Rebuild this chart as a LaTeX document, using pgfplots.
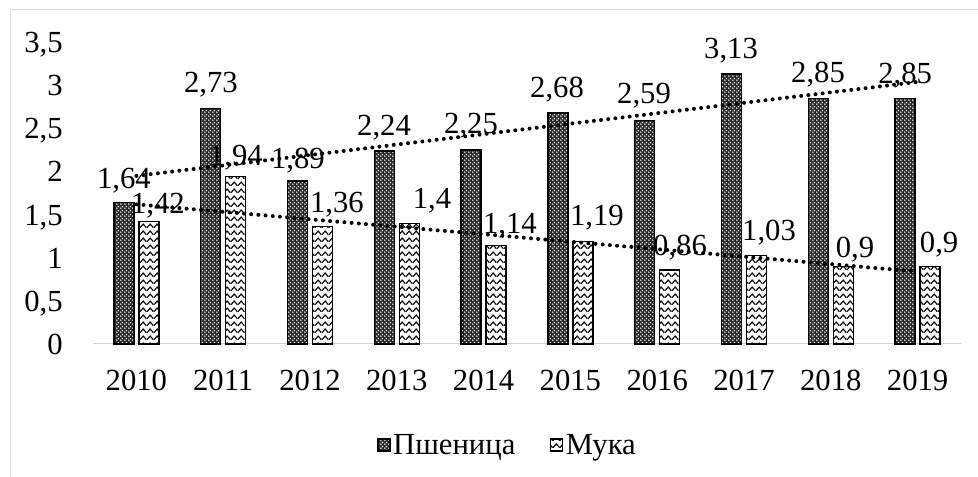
\documentclass[border=0pt]{standalone}
\usepackage{pgfplots}
\pgfplotsset{compat=1.18}
\usepackage{pgfplotstable}
\usepackage{fontspec}
\setmainfont{Liberation Serif}
\usetikzlibrary{patterns}

\pgfdeclarepatternformonly{zigzag}{\pgfqpoint{0pt}{0pt}}{\pgfqpoint{5pt}{5.4pt}}{\pgfqpoint{5pt}{5.4pt}}{
  \pgfsetlinewidth{0.9pt}
  \pgfpathmoveto{\pgfqpoint{0pt}{1.1pt}}
  \pgfpathlineto{\pgfqpoint{2.5pt}{4.1pt}}
  \pgfpathlineto{\pgfqpoint{5pt}{1.1pt}}
  \pgfusepath{stroke}}
\pgfdeclarepatternformonly{wdots}{\pgfqpoint{0pt}{0pt}}{\pgfqpoint{3pt}{3pt}}{\pgfqpoint{3pt}{3pt}}{
  \pgfpathcircle{\pgfqpoint{0.75pt}{0.75pt}}{0.72pt}
  \pgfpathcircle{\pgfqpoint{2.25pt}{2.25pt}}{0.72pt}
  \pgfusepath{fill}}

\pgfplotstableread{
x y
0 1.64
1 2.73
2 1.89
3 2.24
4 2.25
5 2.68
6 2.59
7 3.13
8 2.85
9 2.85
}\wheat
\pgfplotstableread{
x y
0 1.42
1 1.94
2 1.36
3 1.40
4 1.14
5 1.19
6 0.86
7 1.03
8 0.90
9 0.90
}\flour
\pgfplotstableread{
x y lab
-0.144 1.926 1,64
0.858 3.039 2,73
1.861 2.158 1,89
2.853 2.541 2,24
3.855 2.564 2,25
4.846 2.981 2,68
5.848 2.912 2,59
6.851 3.434 3,13
7.853 3.155 2,85
8.856 3.144 2,85
}\wlab
\pgfplotstableread{
x y lab
0.248 1.636 1,42
1.147 2.193 1,94
2.311 1.647 1,36
3.405 1.694 1,4
4.304 1.404 1,14
5.306 1.497 1,19
6.263 1.148 0,86
7.288 1.323 1,03
8.279 1.125 0,9
9.248 1.183 0,9
}\flab

\tikzset{
  wheatbar/.style={draw=black, line width=1pt, fill=black!85,
    postaction={pattern=wdots, pattern color=white}},
  flourbar/.style={draw=black, line width=1pt, fill=white,
    postaction={pattern=zigzag, pattern color=black}},
}

\begin{document}
\begin{tikzpicture}
\draw[gray!30, line width=0.75pt] (7.5pt,0pt) -- (7.5pt,350.25pt) -- (733.5pt,350.25pt);
\begin{axis}[
  at={(69.75pt,99.75pt)}, anchor=south west,
  scale only axis, width=651pt, height=226.3pt,
  xmin=-0.5, xmax=9.5, ymin=0, ymax=3.5,
  xtick={0,...,9},
  xticklabels={2010,2011,2012,2013,2014,2015,2016,2017,2018,2019},
  ytick={0,0.5,...,3.5},
  axis x line*=bottom, axis y line*=left,
  x axis line style={draw=gray!35, line width=0.75pt},
  y axis line style={draw=none},
  tick style={draw=none},
  major tick length=0pt,
  /pgf/number format/use comma,
  /pgf/number format/assume math mode=true,
  tick label style={font=\fontsize{23}{27}\selectfont},
  xticklabel style={anchor=base, inner sep=0pt, yshift=-35pt},
  yticklabel style={anchor=base east, inner sep=0pt, xshift=-22.5pt, yshift=-7.8pt},
  clip=false,
  legend style={at={(0.478,-0.3347)}, anchor=center, draw=none,
    font=\fontsize{23}{27}\selectfont, legend columns=2,
    /tikz/every even column/.append style={column sep=24pt}},
  legend image code/.code={\draw[#1, line width=0.9pt] (0pt,-4.5pt) rectangle (9pt,4.5pt);},
]
\addplot[ybar, bar width=15pt, bar shift=-9.375pt, wheatbar] table[x=x,y=y]{\wheat};
\addlegendentry{Пшеница}
\addplot[ybar, bar width=15pt, bar shift=9.375pt, flourbar] table[x=x,y=y]{\flour};
\addlegendentry{Мука}
\addplot[forget plot, black, line width=3pt, line cap=round, dash pattern=on 0pt off 5.4pt] coordinates {(0,1.95) (9,3.04)};
\addplot[forget plot, black, line width=3pt, line cap=round, dash pattern=on 0pt off 5.4pt] coordinates {(0,1.62) (9,0.84)};
\addplot[forget plot, draw=none, mark=none, nodes near coords, point meta=explicit symbolic,
  nodes near coords style={anchor=base, inner sep=0pt, yshift=-7.8pt, font=\fontsize{23}{27}\selectfont}]
  table[x=x,y=y,meta=lab]{\wlab};
\addplot[forget plot, draw=none, mark=none, nodes near coords, point meta=explicit symbolic,
  nodes near coords style={anchor=base, inner sep=0pt, yshift=-7.8pt, font=\fontsize{23}{27}\selectfont}]
  table[x=x,y=y,meta=lab]{\flab};
\end{axis}
\pgfresetboundingbox
\useasboundingbox (0,0) rectangle (733.5pt,357.75pt);
\end{tikzpicture}
\end{document}
